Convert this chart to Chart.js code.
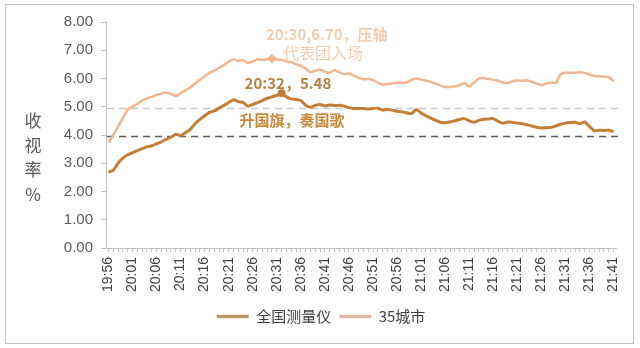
<!DOCTYPE html>
<html>
<head>
<meta charset="utf-8">
<script src="https://cdn.jsdelivr.net/npm/chart.js@4/dist/chart.umd.min.js"></script>
<style>
    html, body { margin: 0; padding: 0; background: #fff; }
    .wrap { position: relative; width: 640px; height: 348px; }
    .frame { position: absolute; left: 5px; top: 4px; width: 627px; height: 338px; border: 1px solid #c4c4c4; pointer-events: none; }
    canvas { display: block; }
</style>
</head>
<body>
<div class="wrap">
    <canvas id="ratingChart" width="640" height="348"></canvas>
    <div class="frame"></div>
</div>
<script>
// Minute-by-minute ratings, 19:56 - 21:41
const startMinute = 19 * 60 + 56;
const minuteCount = 106;
const minutes = [];
for (let i = 0; i < minuteCount; i++) {
    const m = startMinute + i;
    minutes.push(Math.floor(m / 60) + ':' + String(m % 60).padStart(2, '0'));
}

// 全国测量仪
const nationalRatings = [
    2.69, 2.75, 3.00, 3.18, 3.30, 3.38, 3.45, 3.52, 3.58, 3.62,
    3.69, 3.76, 3.85, 3.92, 4.03, 3.98, 4.08, 4.20, 4.40, 4.55,
    4.68, 4.80, 4.85, 4.95, 5.05, 5.15, 5.25, 5.18, 5.15, 5.02,
    5.08, 5.15, 5.22, 5.30, 5.35, 5.40, 5.48, 5.35, 5.28, 5.26,
    5.22, 5.05, 4.98, 5.05, 5.08, 5.03, 5.06, 5.04, 5.05, 5.02,
    4.97, 4.94, 4.94, 4.94, 4.92, 4.94, 4.95, 4.88, 4.90, 4.88,
    4.84, 4.82, 4.78, 4.76, 4.90, 4.78, 4.68, 4.60, 4.52, 4.45,
    4.43, 4.46, 4.50, 4.55, 4.58, 4.50, 4.45, 4.52, 4.56, 4.57,
    4.58, 4.48, 4.42, 4.46, 4.45, 4.42, 4.40, 4.36, 4.32, 4.27,
    4.25, 4.26, 4.27, 4.32, 4.38, 4.42, 4.44, 4.45, 4.40, 4.46,
    4.30, 4.15, 4.17, 4.16, 4.17, 4.12
];

// 35城市
const cityRatings = [
    3.73, 4.00, 4.30, 4.60, 4.90, 5.00, 5.10, 5.22, 5.30, 5.35,
    5.42, 5.47, 5.50, 5.45, 5.38, 5.48, 5.58, 5.68, 5.82, 5.95,
    6.08, 6.20, 6.28, 6.38, 6.48, 6.60, 6.68, 6.62, 6.65, 6.55,
    6.60, 6.68, 6.66, 6.68, 6.70, 6.68, 6.66, 6.60, 6.58, 6.50,
    6.45, 6.35, 6.22, 6.28, 6.32, 6.24, 6.20, 6.30, 6.22, 6.15,
    6.18, 6.10, 6.02, 5.97, 5.98, 5.94, 5.85, 5.78, 5.80, 5.83,
    5.85, 5.85, 5.86, 5.95, 6.00, 5.96, 5.92, 5.88, 5.82, 5.75,
    5.70, 5.70, 5.72, 5.76, 5.84, 5.72, 5.85, 6.00, 6.02, 5.98,
    5.96, 5.92, 5.86, 5.84, 5.90, 5.93, 5.92, 5.94, 5.88, 5.82,
    5.76, 5.82, 5.86, 5.85, 6.15, 6.20, 6.20, 6.20, 6.22, 6.20,
    6.14, 6.09, 6.08, 6.06, 6.05, 5.90
];

// Average reference lines
const cityAverage = 4.96;
const nationalAverage = 3.95;

// Highlighted moments
const cityPeakIndex = 34;      // 20:30
const nationalPeakIndex = 36;  // 20:32

const yTicks = [0, 1, 2, 3, 4, 5, 6, 7, 8];
const yTitle = ['收', '视', '率', '%'];

const COLORS = {
    national: '#c47e38',
    city: '#f1b691',
    cityNote: '#f0cdb0',
    nationalNote: '#b5803f',
    eventNote: '#c98a3e',
    axis: '#bfbfbf',
    tickText: '#595959'
};

const CJK = '"Noto Sans CJK SC", "Liberation Sans", sans-serif';

function markerRadius(count, index, r) {
    return Array.from({ length: count }, (_, i) => (i === index ? r : 0));
}

// Dashed average lines, vertical axis title and annotations
const overlayPlugin = {
    id: 'overlay',
    beforeDatasetsDraw(chart) {
        const { ctx, chartArea, scales } = chart;
        const drawAvg = (value, color) => {
            const y = Math.round(scales.y.getPixelForValue(value)) + 0.5;
            ctx.save();
            ctx.strokeStyle = color;
            ctx.lineWidth = 1.6;
            ctx.setLineDash([7, 5]);
            ctx.beginPath();
            ctx.moveTo(chartArea.left + 1, y);
            ctx.lineTo(chartArea.right + 7, y);
            ctx.stroke();
            ctx.restore();
        };
        drawAvg(cityAverage, '#c9c9c9');
        drawAvg(nationalAverage, '#5e5e5e');
    },
    afterDraw(chart) {
        const { ctx, scales } = chart;
        ctx.save();

        // stacked axis title
        ctx.fillStyle = '#595959';
        ctx.font = '17px ' + CJK;
        ctx.textAlign = 'center';
        ctx.textBaseline = 'middle';
        yTitle.forEach((ch, i) => {
            ctx.fillText(ch, 33, 121 + i * 24.5);
        });

        const cx = scales.x.getPixelForValue(cityPeakIndex);
        const cy = scales.y.getPixelForValue(cityRatings[cityPeakIndex]);
        const nx = scales.x.getPixelForValue(nationalPeakIndex);
        const ny = scales.y.getPixelForValue(nationalRatings[nationalPeakIndex]);

        ctx.textAlign = 'left';
        ctx.fillStyle = COLORS.cityNote;
        ctx.font = 'bold 15px ' + CJK;
        ctx.fillText(minutes[cityPeakIndex] + ',' + cityRatings[cityPeakIndex].toFixed(2) + '，压轴', cx - 6, cy - 24);
        ctx.font = '16px ' + CJK;
        ctx.fillText('代表团入场', cx + 11, cy - 6);

        ctx.fillStyle = COLORS.nationalNote;
        ctx.font = 'bold 15px ' + CJK;
        ctx.fillText(minutes[nationalPeakIndex] + '，' + nationalRatings[nationalPeakIndex].toFixed(2), nx - 37, ny - 10);

        ctx.fillStyle = COLORS.eventNote;
        ctx.font = 'bold 15px ' + CJK;
        ctx.fillText('升国旗，奏国歌', nx - 42, ny + 27);
        ctx.restore();
    }
};

const ctx = document.getElementById('ratingChart');
new Chart(ctx, {
    type: 'line',
    data: {
        labels: minutes,
        datasets: [{
            label: '全国测量仪',
            data: nationalRatings,
            borderColor: COLORS.national,
            backgroundColor: COLORS.national,
            borderWidth: 3,
            tension: 0.2,
            pointStyle: 'circle',
            pointRadius: markerRadius(minuteCount, nationalPeakIndex, 4),
            pointBackgroundColor: COLORS.national,
            pointBorderWidth: 0
        }, {
            label: '35城市',
            data: cityRatings,
            borderColor: COLORS.city,
            backgroundColor: COLORS.city,
            borderWidth: 2.5,
            tension: 0.2,
            pointStyle: 'rectRot',
            pointRadius: markerRadius(minuteCount, cityPeakIndex, 5),
            pointBackgroundColor: COLORS.city,
            pointBorderWidth: 0
        }]
    },
    options: {
        responsive: false,
        animation: false,
        layout: {
            padding: { top: 22, right: 24, bottom: 14, left: 26 }
        },
        plugins: {
            legend: {
                position: 'bottom',
                labels: {
                    usePointStyle: true,
                    pointStyle: 'line',
                    pointStyleWidth: 32,
                    boxHeight: 15,
                    padding: 8,
                    color: '#404040',
                    font: { size: 15, family: CJK },
                    generateLabels(chart) {
                        return chart.data.datasets.map((ds, i) => ({
                            text: ds.label,
                            strokeStyle: i === 0 ? '#b89a68' : '#dbbba8',
                            fillStyle: ds.borderColor,
                            lineWidth: 3.5,
                            pointStyle: 'line',
                            fontColor: '#404040',
                            datasetIndex: i
                        }));
                    }
                }
            },
            tooltip: { enabled: false }
        },
        scales: {
            x: {
                offset: true,
                border: { display: true, color: COLORS.axis, width: 1 },
                grid: {
                    display: true,
                    drawOnChartArea: false,
                    drawTicks: true,
                    tickLength: 4,
                    color: COLORS.axis
                },
                ticks: {
                    autoSkip: false,
                    maxRotation: 90,
                    minRotation: 90,
                    padding: 5,
                    color: '#404040',
                    font: { size: 14, family: '"Liberation Sans", sans-serif' },
                    callback(value, index) {
                        return index % 5 === 0 ? minutes[index] : '';
                    }
                },
                afterFit(scale) {
                    scale.height = 53;
                }
            },
            y: {
                min: 0,
                max: 8,
                border: { display: true, color: COLORS.axis, width: 1 },
                grid: {
                    display: true,
                    drawOnChartArea: false,
                    drawTicks: true,
                    tickLength: 5,
                    color: COLORS.axis
                },
                afterBuildTicks(scale) {
                    scale.ticks = yTicks.map(v => ({ value: v }));
                },
                ticks: {
                    padding: 8,
                    color: COLORS.tickText,
                    font: { size: 15, family: '"Liberation Sans", sans-serif' },
                    callback(value) {
                        return value.toFixed(2);
                    }
                },
                afterFit(scale) {
                    scale.width = 80;
                }
            }
        }
    },
    plugins: [overlayPlugin]
});
</script>
</body>
</html>
